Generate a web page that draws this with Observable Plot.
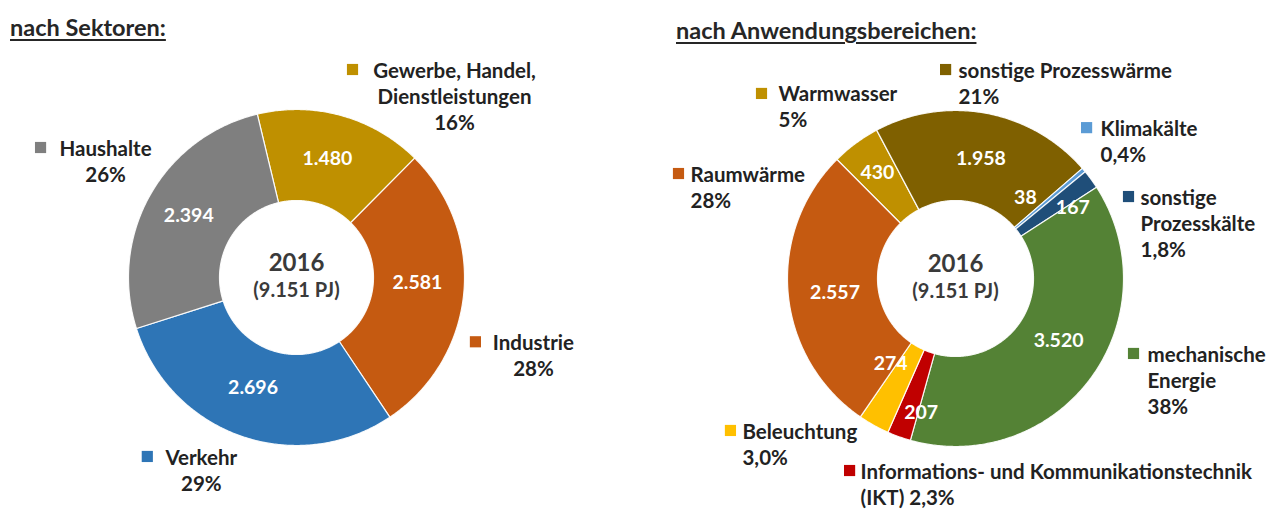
<!DOCTYPE html>
<html>
<head>
<meta charset="utf-8">
<script src="https://cdn.jsdelivr.net/npm/d3@7"></script>
<script src="https://cdn.jsdelivr.net/npm/@observablehq/plot@0.6"></script>
<style>
  html, body { margin: 0; padding: 0; background: #ffffff; }
  #wrap { position: relative; width: 1266px; height: 509px; overflow: hidden; font-family: Lato, "Open Sans", sans-serif; }
  .title { position: absolute; font: 700 23.5px Lato, sans-serif; color: #262626; text-decoration: underline; text-decoration-thickness: 2px; text-underline-offset: 3px; white-space: nowrap; }
  #t1 { left: 10px; top: 13px; }
  #t2 { left: 676px; top: 16px; }
  #left { position: absolute; left: 0; top: 0; }
  #right { position: absolute; left: 633px; top: 0; }
</style>
</head>
<body>
<div id="wrap">
  <div id="left"></div>
  <div id="right"></div>
  <div class="title" id="t1"></div>
  <div class="title" id="t2"></div>
</div>
<script>
// ---------- DATA ----------
const titleLeft = "nach Sektoren:";
const titleRight = "nach Anwendungsbereichen:";
const centerYear = "2016";
const centerTotal = "(9.151 PJ)";

const sectorNames = ["Gewerbe, Handel, Dienstleistungen", "Industrie", "Verkehr", "Haushalte"];
const sectorValues = [1480, 2581, 2696, 2394];
const sectorValueLabels = ["1.480", "2.581", "2.696", "2.394"];
const sectorLabelText = ["Gewerbe, Handel,\nDienstleistungen\n16%", "Industrie\n28%", "Verkehr\n29%", "Haushalte\n26%"];
const sectorColors = ["#BF9000", "#C55A11", "#2E75B6", "#7F7F7F"];

const useNames = ["Warmwasser", "sonstige Prozesswärme", "Klimakälte", "sonstige Prozesskälte",
  "mechanische Energie", "Informations- und Kommunikationstechnik (IKT)", "Beleuchtung", "Raumwärme"];
const useValues = [430, 1958, 38, 167, 3520, 207, 274, 2557];
const useValueLabels = ["430", "1.958", "38", "167", "3.520", "207", "274", "2.557"];
const useLabelText = ["Warmwasser\n5%", "sonstige Prozesswärme\n21%", "Klimakälte\n0,4%", "sonstige\nProzesskälte\n1,8%",
  "mechanische\nEnergie\n38%", "Informations- und Kommunikationstechnik\n(IKT) 2,3%", "Beleuchtung\n3,0%", "Raumwärme\n28%"];
const useColors = ["#BF9000", "#7F6000", "#5B9BD5", "#1F4E79", "#548235", "#C00000", "#FFC000", "#C55A11"];

// ---------- LAYOUT (styling, not data) ----------
const H = 509, W = 633, R = 168;
const LABEL_SIZE = 20.5;
const leftLayout = { cx: 296, cy: 277, rIn: 77 / 168, start: -13.5, anchor: "middle",
  valueNudge: [[-2, -1], [-1, -6], [-3, -5], [-1, -2]],
  textNudge: [[112.8, -20.2], [69.7, 61.2], [-39.7, 33.9], [-44.6, -34.5]],
  keyNudge: [[10.8, -46.2], [11.7, 48.2], [-93.7, 20.4], [-109.6, -47.5]] };
const rightLayout = { cx: 955 - 633, cy: 278, rIn: 78 / 168, start: -44.9, anchor: "start",
  valueNudge: [[-5, -7], [3, 1], [-24, -1], [18, 2], [4, -11], [7, 18], [-5, -22], [2, 3]],
  textNudge: [[-77.2, -37.4], [-27.6, -30.8], [16.8, -29.4], [49.4, 43.2], [56.7, 2.1], [-38.4, 46.8], [-131.3, 18.2], [-97.7, -107.2]],
  keyNudge: [[-94.2, -49.9], [-40.6, -43.8], [2.8, -42.4], [37.4, 17.2], [42.7, -24.6], [-49.4, 33.8], [-143.3, 5.2], [-109.7, -120.2]] };

function ring(names, values, startDeg, rIn) {
  const total = d3.sum(values);
  let a0 = startDeg;
  return values.map((v, i) => {
    const a1 = a0 + v / total * 360;
    const n = Math.max(4, Math.ceil((a1 - a0) / 0.5));
    const pts = [];
    for (let k = 0; k <= n; k++) {
      const t = (a0 + (a1 - a0) * k / n) * Math.PI / 180;
      pts.push({ x: Math.sin(t), y: Math.cos(t) });
    }
    for (let k = n; k >= 0; k--) {
      const t = (a0 + (a1 - a0) * k / n) * Math.PI / 180;
      pts.push({ x: rIn * Math.sin(t), y: rIn * Math.cos(t) });
    }
    pts.push(pts[0]);
    const mid = (a0 + a1) / 2 * Math.PI / 180;
    a0 = a1;
    return { name: names[i], value: v, pts, mid };
  });
}

function donut(names, values, valueLabels, labelText, colors, L) {
  const slices = ring(names, values, L.start, L.rIn);
  const rMid = (1 + L.rIn) / 2;
  const marks = [];
  slices.forEach((s, i) => {
    marks.push(Plot.line(s.pts, { x: "x", y: "y", fill: colors[i], stroke: "#ffffff", strokeWidth: 1.2, strokeOpacity: 0.9 }));
  });
  slices.forEach((s, i) => {
    marks.push(Plot.text([s], {
      x: d => rMid * Math.sin(d.mid), y: d => rMid * Math.cos(d.mid),
      text: () => valueLabels[i], fill: "#ffffff", fontSize: 19.5, fontWeight: "bold",
      dx: L.valueNudge[i][0], dy: L.valueNudge[i][1]
    }));
    marks.push(Plot.dot([s], {
      x: d => Math.sin(d.mid), y: d => Math.cos(d.mid), symbol: "square", r: 6.3,
      fill: colors[i], stroke: "none", dx: L.keyNudge[i][0], dy: L.keyNudge[i][1]
    }));
    marks.push(Plot.text([s], {
      x: d => Math.sin(d.mid), y: d => Math.cos(d.mid), text: () => labelText[i],
      textAnchor: L.anchor, lineAnchor: "middle", lineHeight: 26 / LABEL_SIZE, fontSize: LABEL_SIZE, fontWeight: "bold",
      fill: "#222222", dx: L.textNudge[i][0], dy: L.textNudge[i][1]
    }));
  });
  marks.push(Plot.text([centerYear], { x: () => 0, y: () => 0, text: d => d, fontSize: 24, fontWeight: "bold", fill: "#3a3a3a", dy: -14 }));
  marks.push(Plot.text([centerTotal], { x: () => 0, y: () => 0, text: d => d, fontSize: 20, fontWeight: "bold", fill: "#3a3a3a", dy: 13 }));
  return Plot.plot({
    width: W, height: H, margin: 0,
    style: { background: "transparent", fontFamily: "Lato, 'Open Sans', sans-serif", overflow: "visible" },
    x: { type: "linear", domain: [-L.cx / R, (W - L.cx) / R], axis: null },
    y: { type: "linear", domain: [(L.cy - H) / R, L.cy / R], axis: null },
    marks
  });
}

document.getElementById("t1").textContent = titleLeft;
document.getElementById("t2").textContent = titleRight;
document.getElementById("left").append(donut(sectorNames, sectorValues, sectorValueLabels, sectorLabelText, sectorColors, leftLayout));
document.getElementById("right").append(donut(useNames, useValues, useValueLabels, useLabelText, useColors, rightLayout));
</script>
</body>
</html>
